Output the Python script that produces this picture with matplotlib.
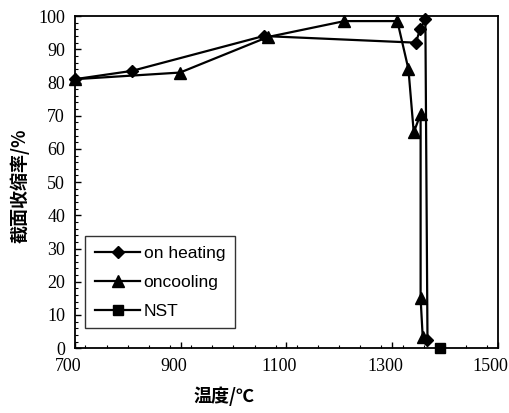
"""Reduction of area vs temperature: on heating, on cooling, NST."""
import matplotlib
matplotlib.use("Agg")
import matplotlib.pyplot as plt
from matplotlib.ticker import MultipleLocator
from matplotlib.transforms import ScaledTranslation

# data
heat_t = [700, 808, 1057, 1345, 1353, 1363, 1367]
heat_ra = [81, 83.5, 94, 92, 96, 99, 2.5]

cool_t = [700, 899, 1065, 1210, 1310, 1331, 1341, 1354, 1354, 1358]
cool_ra = [81, 83, 93.7, 98.5, 98.5, 84, 65, 70.5, 15, 3.3]

nst_t = [1390]
nst_ra = [0]

x_ticks = [700, 900, 1100, 1300, 1500]
y_ticks = list(range(0, 101, 10))

SERIF = "Liberation Serif"
SANS = "Liberation Sans"
CJK = ["Noto Sans CJK SC", "DejaVu Sans"]

fig = plt.figure(figsize=(5.09, 4.13), dpi=100)
ax = fig.add_axes([0.147, 0.157, 0.831, 0.804])

ax.plot(heat_t, heat_ra, color="black", lw=1.6, marker="D", ms=6.5,
        label="on heating", clip_on=False, zorder=3)
ax.plot(cool_t, cool_ra, color="black", lw=1.6, marker="^", ms=8.5,
        label="oncooling", clip_on=False, zorder=3)
ax.plot(nst_t, nst_ra, color="black", lw=1.6, marker="s", ms=7.5,
        label="NST", clip_on=False, zorder=4)

ax.set_xlim(700, 1500)
ax.set_ylim(0, 100)
ax.set_xticks(x_ticks)
ax.set_yticks(y_ticks)
ax.xaxis.set_minor_locator(MultipleLocator(40))
ax.yaxis.set_minor_locator(MultipleLocator(2))
ax.tick_params(which="both", direction="in", top=False, right=False)
ax.tick_params(which="major", length=4, width=1.0, pad=7)
ax.tick_params(which="minor", length=2.5, width=0.8)
# the scanned labels sit a little left of their ticks
shift = ScaledTranslation(-7 / 100, 0, fig.dpi_scale_trans)
for lab in ax.get_xticklabels():
    lab.set_transform(lab.get_transform() + shift)
for lab in ax.get_xticklabels() + ax.get_yticklabels():
    lab.set_fontfamily(SERIF)
    lab.set_fontsize(13)
for sp in ax.spines.values():
    sp.set_linewidth(1.3)

leg = ax.legend(loc="lower left", bbox_to_anchor=(0.025, 0.06),
                prop={"family": SANS, "size": 12.5}, frameon=True,
                fancybox=False, handlelength=2.6, handletextpad=0.2,
                borderpad=0.55, labelspacing=0.8, borderaxespad=0)
leg.get_frame().set_edgecolor("black")
leg.get_frame().set_linewidth(1.0)

fig.text(0.44, 0.04, "温度/℃", family=CJK, fontsize=13,
         fontweight="bold", ha="center", va="center")
fig.text(0.04, 0.55, "截面收缩率/%", family=CJK, fontsize=13,
         fontweight="bold", ha="center", va="center", rotation=90)

fig.savefig("out.png", dpi=100)
